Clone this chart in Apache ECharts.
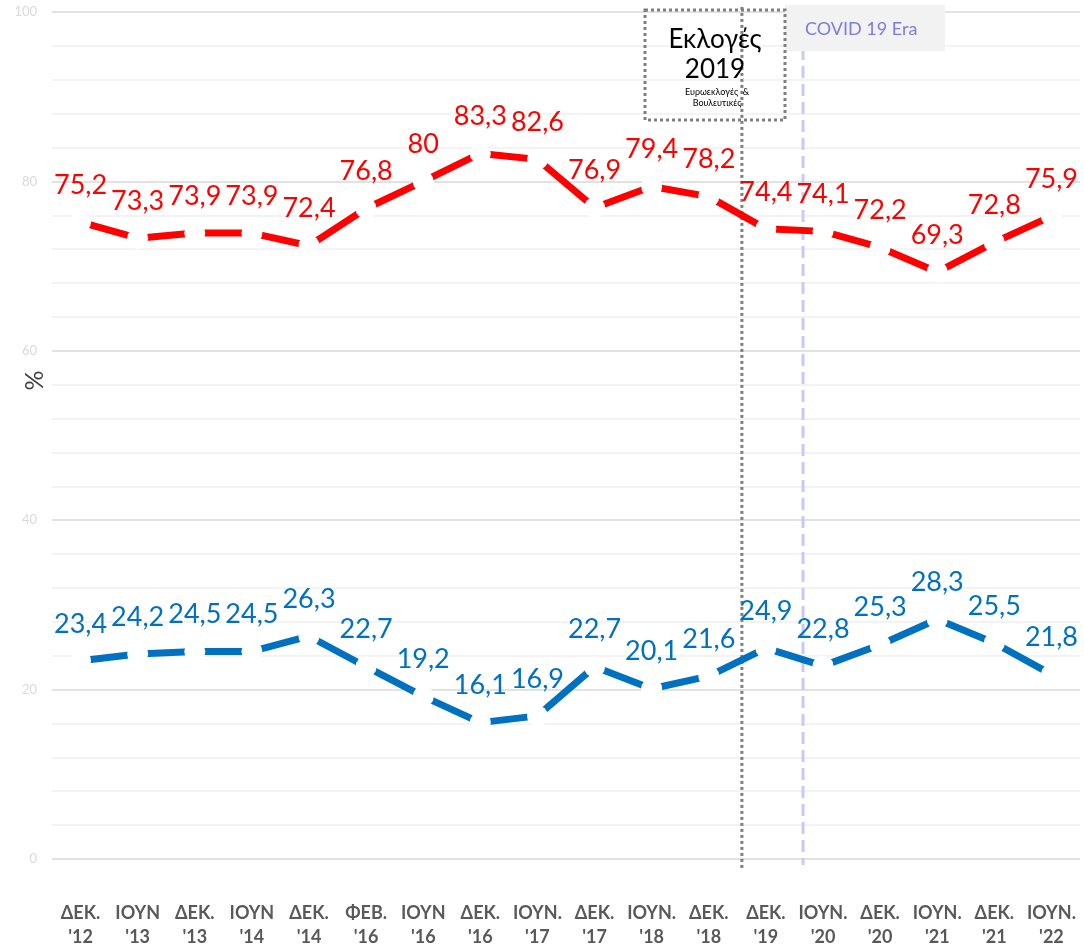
<!DOCTYPE html>
<html lang="el">
<head>
  <meta charset="UTF-8">
  <title>Εκλογές 2019</title>
  <script src="https://cdn.jsdelivr.net/npm/echarts@6/dist/echarts.min.js"></script>
  <style>
    html, body { margin: 0; padding: 0; background: #fff; }
    #main { width: 1084px; height: 948px; }
  </style>
</head>
<body>
  <div id="main"></div>

  <script>
    const categories = ["ΔΕΚ.\n'12", "ΙΟΥΝ\n'13", "ΔΕΚ.\n'13", "ΙΟΥΝ\n'14", "ΔΕΚ.\n'14", "ΦΕΒ.\n'16",
      "ΙΟΥΝ\n'16", "ΔΕΚ.\n'16", "ΙΟΥΝ.\n'17", "ΔΕΚ.\n'17", "ΙΟΥΝ.\n'18", "ΔΕΚ.\n'18",
      "ΔΕΚ.\n'19", "ΙΟΥΝ.\n'20", "ΔΕΚ.\n'20", "ΙΟΥΝ.\n'21", "ΔΕΚ.\n'21", "ΙΟΥΝ.\n'22"];
    const redValues = [75.2, 73.3, 73.9, 73.9, 72.4, 76.8, 80, 83.3, 82.6, 76.9, 79.4, 78.2, 74.4, 74.1, 72.2, 69.3, 72.8, 75.9];
    const blueValues = [23.4, 24.2, 24.5, 24.5, 26.3, 22.7, 19.2, 16.1, 16.9, 22.7, 20.1, 21.6, 24.9, 22.8, 25.3, 28.3, 25.5, 21.8];
    // vertical markers (x in category-index units, y in %)
    const electionLine = [[11.58, 100.6], [11.58, -1.1]];
    const covidLine = [[12.65, 100], [12.65, -0.7]];

    const chart = echarts.init(document.getElementById('main'));
    const fmt = p => String(p.value).replace('.', ',');

    function lineSeries(name, data, color) {
      return {
        name: name,
        type: 'line',
        data: data,
        showSymbol: true,
        symbol: 'circle',
        symbolSize: 21,
        itemStyle: { color: '#ffffff', borderWidth: 0 },
        lineStyle: { color: color, width: 7 },
        label: {
          show: true,
          position: 'top',
          distance: 13,
          color: color,
          fontSize: 27,
          fontFamily: 'Lato',
          formatter: fmt
        },
        z: 3
      };
    }

    function vLine(data, style) {
      return {
        type: 'line',
        xAxisIndex: 1,
        yAxisIndex: 0,
        data: data,
        symbol: 'none',
        clip: false,
        silent: true,
        lineStyle: style,
        z: 2
      };
    }

    const option = {
      animation: false,
      grid: { left: 52, right: 4, top: 12, bottom: 89, outerBoundsMode: 'none' },
      xAxis: [{
        type: 'category',
        data: categories,
        boundaryGap: true,
        axisLine: { show: false },
        axisTick: { show: false },
        axisLabel: {
          margin: 42,
          color: '#595959',
          fontSize: 18,
          fontWeight: 'bold',
          fontFamily: 'Lato',
          lineHeight: 24,
          interval: 0
        }
      }, {
        type: 'value',
        min: -0.5,
        max: 17.5,
        show: false
      }],
      yAxis: {
        type: 'value',
        min: 0,
        max: 100,
        interval: 20,
        name: '%',
        nameLocation: 'middle',
        nameRotate: 90,
        nameGap: 5,
        nameMoveOverlap: false,
        nameTextStyle: { color: '#404040', fontSize: 25, fontFamily: 'Lato', padding: [0, 0, 0, 110] },
        axisLine: { show: false },
        axisTick: { show: false },
        axisLabel: { color: '#d9d9d9', fontSize: 13, margin: 15, fontFamily: 'Lato' },
        splitLine: { lineStyle: { color: '#d9d9d9', width: 1.5 } },
        minorTick: { show: false, splitNumber: 5 },
        minorSplitLine: { show: true, lineStyle: { color: '#f0f0f0', width: 1.5 } }
      },
      series: [
        vLine(electionLine, { color: '#7f7f7f', width: 3, type: [3, 3] }),
        vLine(covidLine, { color: '#c9c9f7', width: 3, type: [12, 6] }),
        lineSeries('red', redValues, '#ff0000'),
        lineSeries('blue', blueValues, '#0070c0')
      ],
      graphic: [
        {
          type: 'rect', z: 100,
          shape: { x: 785, y: 5, width: 160, height: 46 },
          style: { fill: '#f2f2f2' }
        },
        {
          type: 'text', z: 101, x: 805, y: 29,
          style: { text: 'COVID 19 Era', fill: '#7c7cde', fontSize: 18, fontFamily: 'Lato', verticalAlign: 'middle' }
        },
        {
          type: 'rect', z: 100,
          shape: { x: 645, y: 10, width: 140, height: 110 },
          style: { fill: 'none', stroke: '#7f7f7f', lineWidth: 3, lineDash: [3, 3] }
        },
        {
          type: 'text', z: 101, x: 715, y: 40,
          style: { text: 'Εκλογές', fill: '#000', fontSize: 26, fontFamily: 'Lato', align: 'center', verticalAlign: 'middle' }
        },
        {
          type: 'text', z: 101, x: 715, y: 70,
          style: { text: '2019', fill: '#000', fontSize: 26, fontFamily: 'Lato', align: 'center', verticalAlign: 'middle' }
        },
        {
          type: 'text', z: 101, x: 717, y: 92,
          style: { text: 'Ευρωεκλογές  &', fill: '#000', fontSize: 9, fontFamily: 'Lato', align: 'center', verticalAlign: 'middle' }
        },
        {
          type: 'text', z: 101, x: 717, y: 103,
          style: { text: 'Βουλευτικές', fill: '#000', fontSize: 9, fontFamily: 'Lato', align: 'center', verticalAlign: 'middle' }
        }
      ]
    };

    chart.setOption(option);
  </script>
</body>
</html>
